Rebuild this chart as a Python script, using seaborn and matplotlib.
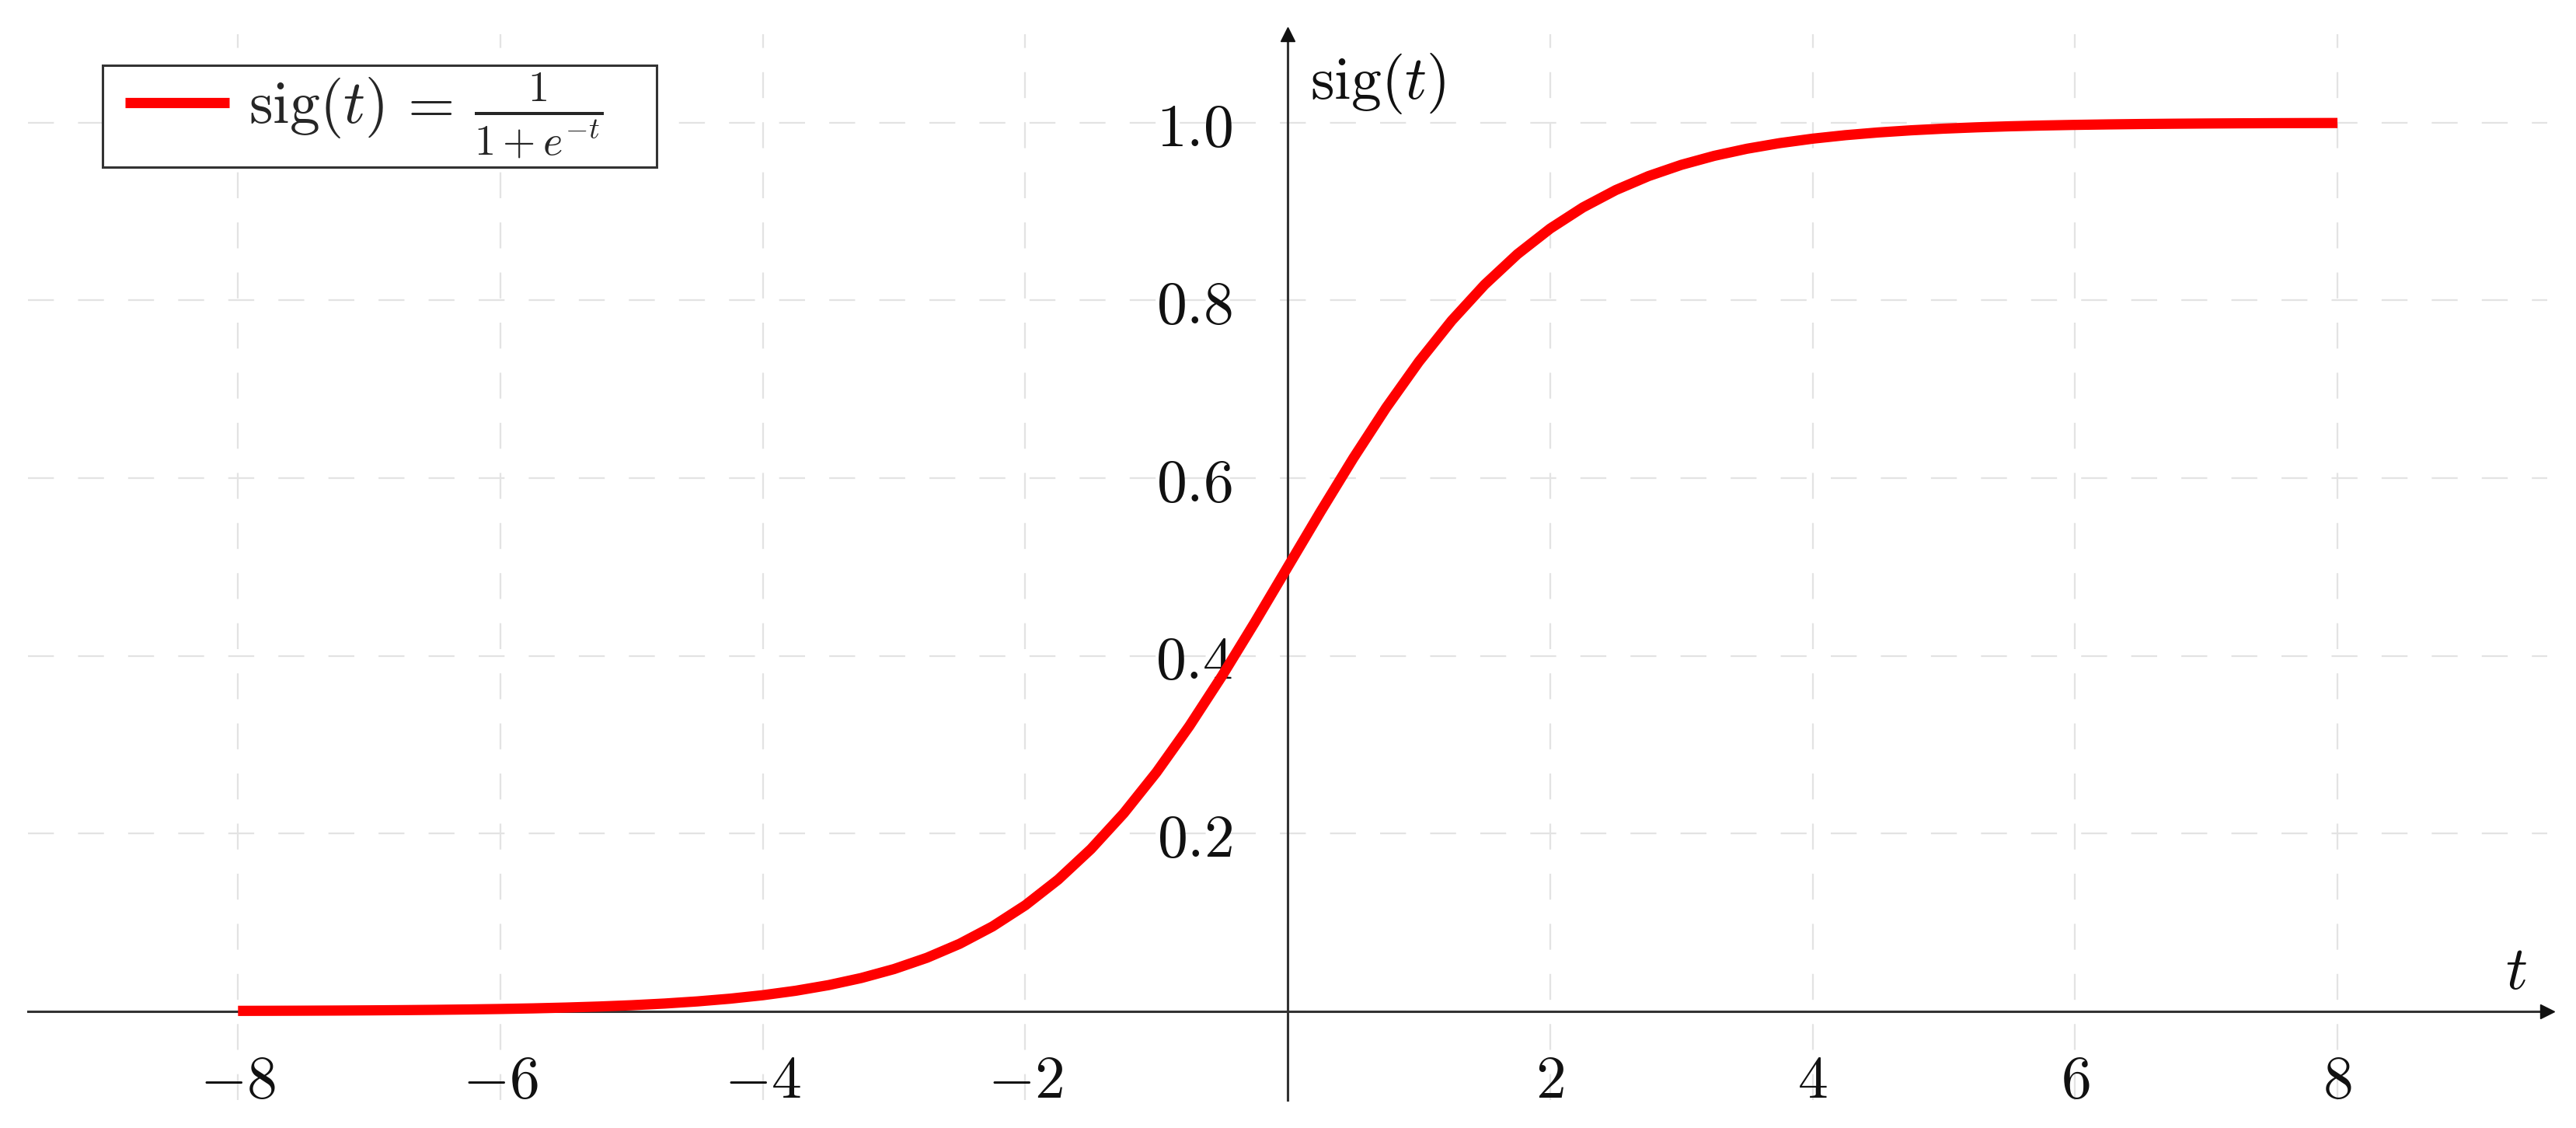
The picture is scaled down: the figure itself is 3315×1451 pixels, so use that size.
import numpy as np
import pandas as pd
import matplotlib
matplotlib.use("Agg")
import matplotlib.pyplot as plt
from matplotlib.legend_handler import HandlerLine2D
from matplotlib.offsetbox import DrawingArea
import seaborn as sns

# ---- data ----
t_values = [-8.0, -7.75, -7.5, -7.25, -7.0, -6.75, -6.5, -6.25,
            -6.0, -5.75, -5.5, -5.25, -5.0, -4.75, -4.5, -4.25,
            -4.0, -3.75, -3.5, -3.25, -3.0, -2.75, -2.5, -2.25,
            -2.0, -1.75, -1.5, -1.25, -1.0, -0.75, -0.5, -0.25,
            0.0,
            0.25, 0.5, 0.75, 1.0, 1.25, 1.5, 1.75, 2.0,
            2.25, 2.5, 2.75, 3.0, 3.25, 3.5, 3.75, 4.0,
            4.25, 4.5, 4.75, 5.0, 5.25, 5.5, 5.75, 6.0,
            6.25, 6.5, 6.75, 7.0, 7.25, 7.5, 7.75, 8.0]
sig_values = [0.00034, 0.00043, 0.00055, 0.00071, 0.00091, 0.00117, 0.00150, 0.00193,
              0.00247, 0.00317, 0.00407, 0.00522, 0.00669, 0.00858, 0.01099, 0.01406,
              0.01799, 0.02298, 0.02931, 0.03733, 0.04743, 0.06009, 0.07586, 0.09534,
              0.11920, 0.14805, 0.18243, 0.22270, 0.26894, 0.32082, 0.37754, 0.43782,
              0.50000,
              0.56218, 0.62246, 0.67918, 0.73106, 0.77730, 0.81757, 0.85195, 0.88080,
              0.90466, 0.92414, 0.93991, 0.95257, 0.96267, 0.97069, 0.97702, 0.98201,
              0.98594, 0.98901, 0.99142, 0.99331, 0.99478, 0.99593, 0.99683, 0.99753,
              0.99807, 0.99850, 0.99883, 0.99909, 0.99929, 0.99945, 0.99957, 0.99966]
x_ticks = [-8, -6, -4, -2, 2, 4, 6, 8]
x_tick_labels = ["$-8$", "$-6$", "$-4$", "$-2$", "$2$", "$4$", "$6$", "$8$"]
y_ticks = [0.2, 0.4, 0.6, 0.8, 1.0]
y_tick_labels = ["$0.2$", "$0.4$", "$0.6$", "$0.8$", "$1.0$"]
legend_label = r"$\mathrm{sig}(t)\,=\,\frac{1}{1+e^{-t}}$"
x_label = "$t$"
y_label = r"$\mathrm{sig}(t)$"

sns.set_style("white")
plt.rcParams["mathtext.fontset"] = "cm"
plt.rcParams["font.family"] = ["DejaVu Serif"]

FS = 56
fig = plt.figure(figsize=(33.15, 14.51), dpi=100)
ax = fig.add_axes([0.0109, 0.0248, 0.978, 0.9452])

df = pd.DataFrame({"t": t_values, "sig": sig_values})
sns.lineplot(data=df, x="t", y="sig", ax=ax, color="#ff0000", linewidth=9.5,
             label=legend_label, solid_joinstyle="round", solid_capstyle="butt",
             zorder=5)

ax.set_xlim(-9.6, 9.6)
ax.set_ylim(-0.1, 1.1)

# grid
for xv in [-8, -6, -4, -2, 0, 2, 4, 6, 8]:
    ax.axvline(xv, color="#e3e3e3", linewidth=1.6, dashes=(15, 14), zorder=0)
for yv in [0.0, 0.2, 0.4, 0.6, 0.8, 1.0]:
    ax.axhline(yv, color="#e3e3e3", linewidth=1.6, dashes=(15, 14), zorder=0)

# axes through origin
for s in ["top", "right"]:
    ax.spines[s].set_visible(False)
ax.spines["left"].set_position(("data", 0))
ax.spines["bottom"].set_position(("data", 0))
for s in ["left", "bottom"]:
    ax.spines[s].set_color("#333333")
    ax.spines[s].set_linewidth(2.2)
    ax.spines[s].set_zorder(3)

ax.plot(1, 0, marker=">", color="#111111", markersize=13, transform=ax.get_yaxis_transform(),
        clip_on=False, zorder=6)
ax.plot(0, 1, marker="^", color="#111111", markersize=13, transform=ax.get_xaxis_transform(),
        clip_on=False, zorder=6)

ax.set_xticks(x_ticks)
ax.set_xticklabels(x_tick_labels)
ax.set_yticks(y_ticks)
ax.set_yticklabels(y_tick_labels)
ax.tick_params(axis="both", direction="inout", length=22, width=1.6, color="#aaaaaa",
               labelsize=FS, labelcolor="#111111")
ax.tick_params(axis="x", pad=26)
ax.tick_params(axis="y", pad=40)
ax.set_xlabel("")
ax.set_ylabel("")

ax.text(0.17, 1.027, y_label, fontsize=FS, ha="left", va="baseline", color="#111111")
ax.text(9.36, 0.025, x_label, fontsize=FS, ha="center", va="baseline", color="#111111")


class PaddedLine(HandlerLine2D):
    def get_xdata(self, legend, xdescent, ydescent, width, height, fontsize):
        pad = 0.28 * fontsize
        xdata = np.array([-xdescent + pad, -xdescent + width])
        return xdata, xdata


handles, labels = ax.get_legend_handles_labels()
leg = ax.legend(handles, labels, loc="upper left", bbox_to_anchor=(0.0398, 0.9421),
                bbox_transform=fig.transFigure, borderaxespad=0, fontsize=FS,
                frameon=True, fancybox=False, handlelength=2.0, handletextpad=0.32,
                borderpad=0.1, handler_map={handles[0]: PaddedLine()})
leg.get_frame().set_edgecolor("#333333")
leg.get_frame().set_linewidth(2.2)
leg.get_frame().set_facecolor("white")
leg.get_frame().set_alpha(1)

# extra right-hand padding inside the legend frame
try:
    item = leg._legend_handle_box.get_children()[0].get_children()[0]
    item.get_children().append(DrawingArea(width=26, height=0))
except Exception:
    pass

fig.savefig("out.png", dpi=100, facecolor="white")
